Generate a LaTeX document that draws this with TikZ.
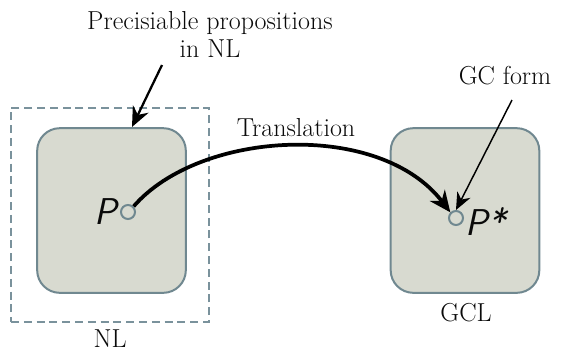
\documentclass[tikz,border=0pt]{standalone}
\usetikzlibrary{arrows.meta}
\definecolor{boxfill}{RGB}{216,218,208}
\definecolor{boxedge}{RGB}{112,136,144}
\definecolor{dashc}{RGB}{122,146,156}
\definecolor{ink}{RGB}{10,10,10}
\begin{document}
\begin{tikzpicture}[x=0.75pt,y=-0.75pt,
  lbl/.style={inner sep=0pt,text=ink,font=\fontsize{19.5}{21}\selectfont,align=center},
  sym/.style={inner sep=0pt,text=ink,font=\fontsize{28}{30}\selectfont\sffamily\itshape},
  region/.style={draw=boxedge,fill=boxfill,line width=1.5pt,rounded corners=17pt,
    minimum width=111.5pt,minimum height=123.5pt,inner sep=0pt},
  frame/.style={draw=dashc,line width=1.9pt,dash pattern=on 6pt off 3.6pt,
    minimum width=148.5pt,minimum height=160.5pt,inner sep=0pt},
  dot/.style={circle,draw=boxedge,fill=boxfill,line width=1.5pt,minimum size=10.5pt,inner sep=0pt},
  bigarrow/.style={line width=2.8pt,-{Stealth[length=16pt,width=14pt]}},
  thinarrow/.style={line width=1.1pt,-{Stealth[length=13pt,width=11pt]}},
  midarrow/.style={line width=1.7pt,-{Stealth[length=15pt,width=13pt]}}]
\useasboundingbox (0,0) rectangle (579,351);
% frames and regions
\node[frame] (nlframe) at (110,215) {};
\node[region] (nl) at (111.5,210.5) {};
\node[region] (gcl) at (465,210.5) {};
% points
\node[dot] (p) at (128,212) {};
\node[dot] (ps) at (456,218) {};
\node[sym,anchor=east] (plbl) at ([xshift=-2pt]p.west) {P};
\node[sym,anchor=west] (pslbl) at ([xshift=1pt,yshift=-3pt]ps.east) {P*};
% texts
\node[lbl] (prec) at (210,34) {Precisiable propositions\\in NL};
\node[lbl] (trans) at (296,128) {Translation};
\node[lbl] (gcf) at (505,76) {GC form};
\node[lbl] (nltxt) at (110,339) {NL};
\node[lbl] (gcltxt) at (466,313) {GCL};
% connectors
\coordinate (precstart) at (162,65);
\coordinate (prectip) at (132,127);
\draw[midarrow] (precstart) -- (prectip);
\coordinate (gcstart) at (512,100);
\draw[thinarrow] (gcstart) -- (ps.north);
\draw[bigarrow] (p.north east) .. controls (200,130) and (380,120) .. (ps.north west);
\end{tikzpicture}
\end{document}
